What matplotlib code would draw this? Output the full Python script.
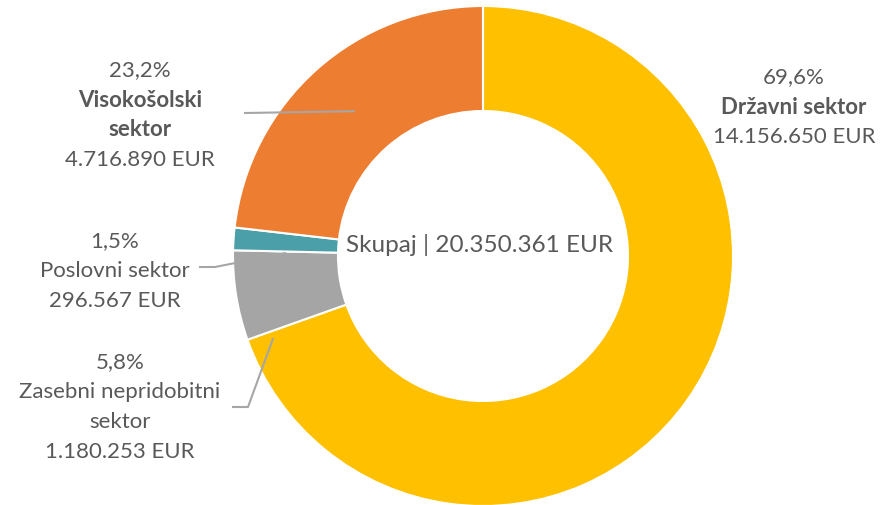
import numpy as np
import matplotlib.pyplot as plt

plt.rcParams['font.family'] = ['Lato', 'DejaVu Sans']

# podatki
sektorji = ['Državni sektor', 'Zasebni nepridobitni\nsektor', 'Poslovni sektor', 'Visokošolski\nsektor']
vrednosti = [14156650, 1180253, 296567, 4716890]
odstotki = ['69,6%', '5,8%', '1,5%', '23,2%']
zneski = ['14.156.650 EUR', '1.180.253 EUR', '296.567 EUR', '4.716.890 EUR']
barve = ['#FFC000', '#A5A5A5', '#4A9FA9', '#ED7D31']
skupaj = 'Skupaj | 20.350.361 EUR'

TXT = '#595959'
LINE = '#A6A6A6'
FS = 16

W, H = 880, 506
fig = plt.figure(figsize=(W / 100, H / 100), dpi=100)
ax = fig.add_axes([0, 0, 1, 1])

# koordinate v pikslih, y od zgoraj -> pretvorba
def Y(y):
    return H - y

cx, cy = 483, Y(257)
R, r_in = 250, 145
wedges, _ = ax.pie(vrednosti, colors=barve, startangle=90, counterclock=False,
                   radius=R, center=(cx, cy), frame=True,
                   wedgeprops=dict(width=R - r_in, edgecolor='white', linewidth=1.5))
ax.set_xlim(0, W)
ax.set_ylim(0, H)
ax.axis('off')

ax.text(480, Y(245), skupaj, ha='center', va='center', fontsize=17.5, color=TXT)


def point(t, rad):
    t = np.deg2rad(t)
    return cx + rad * np.cos(t), cy + rad * np.sin(t)


def mid(w):
    return (w.theta1 + w.theta2) / 2


def top_edge(w):
    # rob klina z vecjim kotom (proti spodnjemu sosedu)
    return max(w.theta1 % 360, w.theta2 % 360)


def label(x, y, pct, name, amount, bold):
    ax.text(x, Y(y), pct, ha='center', va='center', fontsize=FS, color=TXT)
    yy = y + 30
    for ln in name.split('\n'):
        ax.text(x, Y(yy), ln, ha='center', va='center', fontsize=FS, color=TXT,
                fontweight='bold' if bold else 'normal')
        yy += 30
    ax.text(x, Y(yy), amount, ha='center', va='center', fontsize=FS, color=TXT)


label(794, 77, odstotki[0], sektorji[0], zneski[0], True)
label(120, 362, odstotki[1], sektorji[1], zneski[1], False)
label(115, 241, odstotki[2], sektorji[2], zneski[2], False)
label(140, 70, odstotki[3], sektorji[3], zneski[3], True)

# vodilne crte
ax0, ay0 = point(mid(wedges[3]), 194)
ax.plot([245, ax0], [Y(114), ay0], color=LINE, lw=1.5)
ax1, ay1 = point(top_edge(wedges[2]) + 0.5, 198)
ax.plot([200, 215, ax1], [Y(268), Y(268), ay1], color=LINE, lw=1.5)
ax2, ay2 = point(top_edge(wedges[1]) + 2, 226)
ax.plot([233, 248, ax2], [Y(408), Y(408), ay2], color=LINE, lw=1.5)

fig.savefig('out.png', dpi=100, facecolor='white')
